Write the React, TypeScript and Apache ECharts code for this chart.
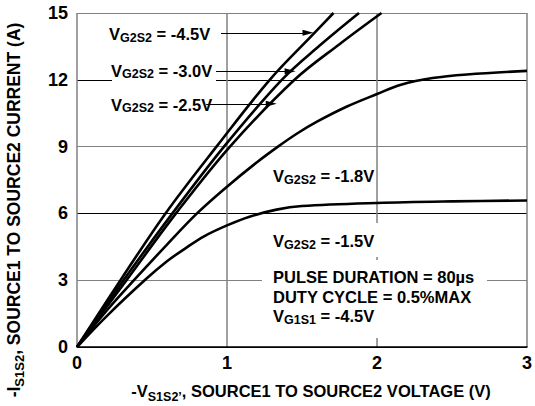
import React, { useEffect, useRef } from 'react';
import * as echarts from 'echarts';

// Axis ticks
const xTickValues = [0, 1, 2, 3];
const yTickValues = [0, 3, 6, 9, 12, 15];

// Curves: -V_S1S2 (V) vs -I_S1S2 (A)
const vg45V = [0, 0.29, 0.59, 0.93, 1.285, 1.575, 1.71];
const vg45I = [0, 3.0, 6.0, 9.0, 12.0, 14.05, 15.0];

const vg30V = [0, 0.31, 0.636, 0.98, 1.365, 1.62, 1.88];
const vg30I = [0, 3.0, 6.0, 9.0, 12.0, 13.55, 15.0];

const vg25V = [0, 0.33, 0.66, 1.02, 1.45, 1.75, 2.03];
const vg25I = [0, 3.0, 6.0, 9.0, 12.0, 13.6, 15.0];

const vg18V = [0, 0.2, 0.38, 0.6, 0.8, 1.0, 1.2, 1.34, 1.47, 1.6, 1.8, 2.0, 2.16, 2.37, 2.6, 3.0];
const vg18I = [0, 1.65, 3.0, 4.6, 6.0, 7.2, 8.3, 9.0, 9.6, 10.12, 10.8, 11.36, 11.78, 12.08, 12.24, 12.4];

const vg15V = [0, 0.2, 0.46, 0.6, 0.72, 0.85, 1.0, 1.15, 1.33, 1.5, 2.0, 2.5, 3.0];
const vg15I = [0, 1.4, 3.05, 3.85, 4.42, 4.98, 5.46, 5.85, 6.17, 6.33, 6.47, 6.54, 6.58];

// Annotation arrows (data coordinates)
const arrowStartV = [0.96, 0.927, 0.861];
const arrowEndV = [1.54, 1.421, 1.295];
const arrowI = [14.11, 12.38, 10.92];

const FONT = '"Liberation Sans", Arial, Helvetica, sans-serif';

const zip = (xs: number[], ys: number[]) => xs.map((x, i) => [x, ys[i]]);

const labelRich = {
  m: { fontFamily: FONT, fontWeight: 'bold', fontSize: 16.5, lineHeight: 20, fill: '#000' },
  s: { fontFamily: FONT, fontWeight: 'bold', fontSize: 12.5, lineHeight: 6, verticalAlign: 'bottom', fill: '#000' },
};

const titleRich = (main: number, sub: number) => ({
  m: { fontFamily: FONT, fontWeight: 'bold', fontSize: main, lineHeight: 24, fill: '#000' },
  s: { fontFamily: FONT, fontWeight: 'bold', fontSize: sub, lineHeight: 2, verticalAlign: 'bottom', fill: '#000' },
});

const label = (text: string, x: number, y: number) => ({
  type: 'text',
  x,
  y,
  z: 10,
  silent: true,
  style: { text, align: 'left', verticalAlign: 'middle', rich: labelRich },
});

const whiteRect = (x: number, y: number, width: number, height: number) => ({
  type: 'rect',
  z: 1,
  silent: true,
  shape: { x, y, width, height },
  style: { fill: '#fff' },
});

export default function App() {
  const ref = useRef<HTMLDivElement>(null);

  useEffect(() => {
    if (!ref.current) return;
    const chart = echarts.init(ref.current, undefined, { renderer: 'svg' });

    const curve = (name: string, xs: number[], ys: number[], extra: any = {}) => ({
      name,
      type: 'line',
      data: zip(xs, ys),
      showSymbol: false,
      symbol: 'none',
      smooth: 0.35,
      lineStyle: { color: '#000', width: 2.6 },
      silent: true,
      z: 3,
      ...extra,
    });

    chart.setOption({
      animation: false,
      backgroundColor: '#fff',
      grid: { left: 77, right: 5, top: 13, bottom: 59, containLabel: false },
      xAxis: {
        type: 'value',
        min: xTickValues[0],
        max: xTickValues[xTickValues.length - 1],
        interval: 1,
        axisLine: { show: true, lineStyle: { color: '#000', width: 1.5 } },
        axisTick: { show: false },
        splitLine: { show: true, lineStyle: { color: '#808080', width: 1.5 } },
        axisLabel: {
          show: true,
          margin: 7,
          color: '#000',
          fontFamily: FONT,
          fontWeight: 'bold',
          fontSize: 18,
        },
      },
      yAxis: {
        type: 'value',
        min: yTickValues[0],
        max: yTickValues[yTickValues.length - 1],
        interval: 3,
        axisLine: { show: false },
        axisTick: { show: false },
        splitLine: { show: true, lineStyle: { color: ['#000', '#808080'], width: 1 } },
        axisLabel: {
          show: true,
          margin: 9,
          color: '#000',
          fontFamily: FONT,
          fontWeight: 'bold',
          fontSize: 18,
        },
      },
      series: [
        curve('VG2S2 = -4.5V', vg45V, vg45I, {
          markLine: {
            silent: true,
            symbol: ['none', 'triangle'],
            symbolSize: [6, 11],
            label: { show: false },
            emphasis: { disabled: true },
            lineStyle: { color: '#000', width: 1.2, type: 'solid' },
            data: arrowI.map((yv, i) => [
              { coord: [arrowStartV[i], yv] },
              { coord: [arrowEndV[i], yv] },
            ]),
          },
        }),
        curve('VG2S2 = -3.0V', vg30V, vg30I),
        curve('VG2S2 = -2.5V', vg25V, vg25I),
        curve('VG2S2 = -1.8V', vg18V, vg18I),
        curve('VG2S2 = -1.5V', vg15V, vg15I),
      ],
      graphic: [
        whiteRect(112, 62, 104, 22),
        whiteRect(262, 223, 122, 34),
        whiteRect(262, 260, 225, 78),
        label('{m|V}{s|G2S2}{m| = -4.5V}', 109, 34),
        label('{m|V}{s|G2S2}{m| = -3.0V}', 111, 70.5),
        label('{m|V}{s|G2S2}{m| = -2.5V}', 111, 104.5),
        label('{m|V}{s|G2S2}{m| = -1.8V}', 273, 176),
        label('{m|V}{s|G2S2}{m| = -1.5V}', 273, 241),
        label('{m|PULSE DURATION = 80µs}', 273, 276.5),
        label('{m|DUTY CYCLE = 0.5%MAX}', 273, 297),
        label('{m|V}{s|G1S1}{m| = -4.5V}', 273, 316),
        {
          type: 'text',
          x: 311,
          y: 391,
          z: 10,
          silent: true,
          style: {
            text: '{m|-V}{s|S1S2\u2019}{m|, SOURCE1 TO SOURCE2 VOLTAGE (V)}',
            align: 'center',
            verticalAlign: 'middle',
            rich: titleRich(16.5, 12.5),
          },
        },
        {
          type: 'text',
          x: 14,
          y: 210,
          z: 10,
          rotation: Math.PI / 2,
          silent: true,
          style: {
            text: '{m|-I}{s|S1S2}{m|, SOURCE1 TO SOURCE2 CURRENT (A)}',
            align: 'center',
            verticalAlign: 'middle',
            rich: titleRich(17.5, 13),
          },
        },
      ],
    });

    return () => chart.dispose();
  }, []);

  return (
    <div
      ref={ref}
      style={{ position: 'absolute', left: 0, top: 0, width: 535, height: 406 }}
    />
  );
}
